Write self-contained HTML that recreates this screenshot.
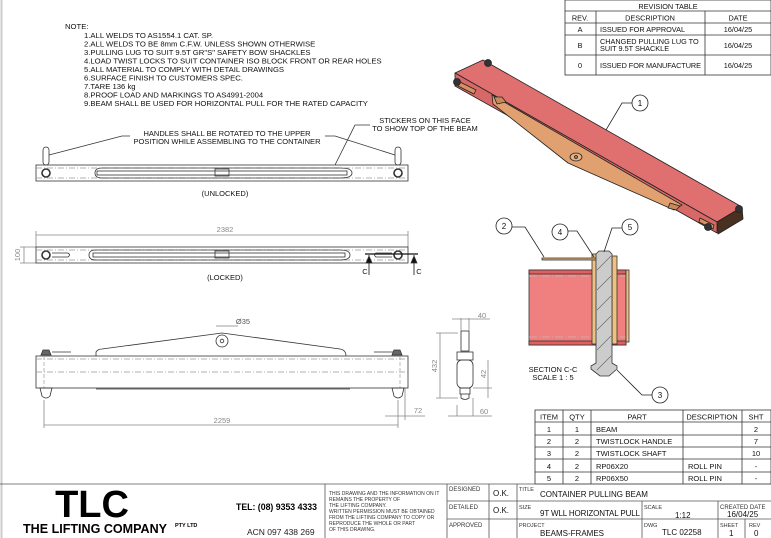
<!DOCTYPE html>
<html><head><meta charset="utf-8"><style>
html,body{margin:0;padding:0;background:#fff;}
svg{display:block;font-family:"Liberation Sans",sans-serif;}
</style></head><body>
<svg width="771" height="538" viewBox="0 0 771 538" xmlns="http://www.w3.org/2000/svg">
<rect width="771" height="538" fill="#fff"/>
<line x1="1.5" y1="0" x2="1.5" y2="538" stroke="#ccc" stroke-width="2"/>

<!-- NOTES -->
<g font-size="7.7" fill="#111">
<text x="65" y="29">NOTE:</text>
<text x="84" y="38">1.ALL WELDS TO AS1554.1 CAT. SP.</text>
<text x="84" y="46.5">2.ALL WELDS TO BE 8mm C.F.W. UNLESS SHOWN OTHERWISE</text>
<text x="84" y="55">3.PULLING LUG TO SUIT 9.5T GR"S" SAFETY BOW SHACKLES</text>
<text x="84" y="63.5">4.LOAD TWIST LOCKS TO SUIT CONTAINER ISO BLOCK FRONT OR REAR HOLES</text>
<text x="84" y="72">5.ALL MATERIAL TO COMPLY WITH DETAIL DRAWINGS</text>
<text x="84" y="80.5">6.SURFACE FINISH TO CUSTOMERS SPEC.</text>
<text x="84" y="89">7.TARE 136 kg</text>
<text x="84" y="97.5">8.PROOF LOAD AND MARKINGS TO AS4991-2004</text>
<text x="84" y="106">9.BEAM SHALL BE USED FOR HORIZONTAL PULL FOR THE RATED CAPACITY</text>
</g>

<!-- REVISION TABLE -->
<g stroke="#333" stroke-width="0.8" fill="none">
<rect x="565" y="0" width="206" height="75"/>
<line x1="565" y1="11" x2="771" y2="11"/><line x1="565" y1="23" x2="771" y2="23"/>
<line x1="565" y1="35" x2="771" y2="35"/><line x1="565" y1="55" x2="771" y2="55"/>
<line x1="596" y1="11" x2="596" y2="75"/><line x1="705" y1="11" x2="705" y2="75"/>
</g>
<g font-size="7.3" fill="#111">
<text x="668" y="9" text-anchor="middle">REVISION TABLE</text>
<text x="580" y="20.5" text-anchor="middle">REV.</text>
<text x="650" y="20.5" text-anchor="middle">DESCRIPTION</text>
<text x="738" y="20.5" text-anchor="middle">DATE</text>
<text x="580" y="32" text-anchor="middle">A</text><text x="600" y="32">ISSUED FOR APPROVAL</text><text x="738" y="32" text-anchor="middle">16/04/25</text>
<text x="580" y="48" text-anchor="middle">B</text><text x="600" y="44">CHANGED PULLING LUG TO</text><text x="600" y="51">SUIT 9.5T SHACKLE</text><text x="738" y="48" text-anchor="middle">16/04/25</text>
<text x="580" y="68" text-anchor="middle">0</text><text x="600" y="68" textLength="101">ISSUED FOR MANUFACTURE</text><text x="738" y="68" text-anchor="middle">16/04/25</text>
</g>

<!-- UNLOCKED VIEW -->
<g stroke="#333" stroke-width="0.8" fill="none">
<rect x="36" y="165" width="372" height="16" fill="#fff"/>
<line x1="36" y1="168" x2="408" y2="168" stroke-dasharray="6,2,1,2" stroke="#999"/>
<line x1="36" y1="178" x2="408" y2="178" stroke-dasharray="6,2,1,2" stroke="#999"/>
<path d="M95 173 Q95 168 102 168 L340 168 Q352 168 352 173 Q352 178 340 178 L102 178 Q95 178 95 173Z"/>
<rect x="97" y="171" width="250" height="4"/>
<rect x="215" y="169" width="14" height="7"/>
<rect x="43" y="147" width="6" height="18" rx="3"/>
<rect x="395" y="147" width="6" height="18" rx="3"/>
<circle cx="46" cy="173" r="4" stroke-width="1.6"/><circle cx="398" cy="173" r="4" stroke-width="1.6"/>
<polyline points="49,155 122,136 130,136"/><polyline points="395,155 335,136 325,136"/>
<polyline points="335,165 355,125 370,125"/>
</g>
<g font-size="7.5" fill="#111" text-anchor="middle">
<text x="227" y="136">HANDLES SHALL BE ROTATED TO THE UPPER</text>
<text x="227" y="144">POSITION WHILE ASSEMBLING TO THE CONTAINER</text>
<text x="425" y="123">STICKERS ON THIS FACE</text>
<text x="425" y="131">TO SHOW TOP OF THE BEAM</text>
<text x="225" y="196">(UNLOCKED)</text>
</g>

<!-- LOCKED VIEW -->
<g stroke="#333" stroke-width="0.8" fill="none">
<line x1="36" y1="235" x2="408" y2="235" stroke="#888"/>
<line x1="36" y1="231" x2="36" y2="247" stroke="#888"/><line x1="408" y1="231" x2="408" y2="247" stroke="#888"/>
<line x1="24" y1="247" x2="24" y2="263" stroke="#888"/>
<line x1="20" y1="247" x2="36" y2="247" stroke="#888"/><line x1="20" y1="263" x2="36" y2="263" stroke="#888"/>
<rect x="36" y="247" width="372" height="16"/>
<line x1="36" y1="250" x2="408" y2="250" stroke-dasharray="6,2,1,2" stroke="#999"/>
<line x1="36" y1="260" x2="408" y2="260" stroke-dasharray="6,2,1,2" stroke="#999"/>
<path d="M89 255 Q89 250 96 250 L340 250 Q350 250 350 255 Q350 260 340 260 L96 260 Q89 260 89 255Z"/>
<rect x="93" y="253" width="252" height="4"/>
<rect x="215" y="251" width="14" height="7"/>
<circle cx="46" cy="255" r="4" stroke-width="1.6"/><circle cx="398" cy="255" r="4" stroke-width="1.6"/>
<path d="M52 253 L68 253 Q71 255 68 257 L52 257"/>
<path d="M392 253 L376 253 Q373 255 376 257 L392 257"/>
<line x1="365" y1="254" x2="418" y2="254" stroke="#111" stroke-width="1.2"/>
<line x1="369" y1="255" x2="369" y2="275" stroke="#111"/><line x1="414" y1="255" x2="414" y2="275" stroke="#111"/>
<path d="M366 263 L369 256 L372 263Z M411 263 L414 256 L417 263Z" fill="#111"/>
</g>
<g font-size="7.5" fill="#111" text-anchor="middle">
<text x="225" y="232" fill="#888">2382</text>
<text x="20" y="255" fill="#888" transform="rotate(-90 20 255)">100</text>
<text x="365" y="274">C</text><text x="419" y="274">C</text>
<text x="225" y="280">(LOCKED)</text>
</g>

<!-- SIDE VIEW -->
<g stroke="#333" stroke-width="0.8" fill="none">
<rect x="36" y="356" width="372" height="32"/>
<line x1="36" y1="359" x2="408" y2="359" stroke-dasharray="6,2,1,2" stroke="#999"/>
<line x1="36" y1="372" x2="408" y2="372" stroke-dasharray="6,2,1,2" stroke="#999"/>
<line x1="44" y1="356" x2="44" y2="388" stroke-dasharray="4,2" stroke="#aaa"/>
<line x1="400" y1="356" x2="400" y2="388" stroke-dasharray="4,2" stroke="#aaa"/>
<path d="M96 356 L96 352 Q98 349 102 349 L222 333 L340 349 Q346 350 346 356"/>
<circle cx="222" cy="341" r="6"/><circle cx="222" cy="341" r="1.8"/>
<line x1="96" y1="389" x2="350" y2="389"/>
<path d="M41 355 L43 350 L49 350 L51 355Z M392 355 L394 350 L400 350 L402 355Z" fill="#666"/>
<line x1="52" y1="352" x2="71" y2="352"/><line x1="374" y1="352" x2="393" y2="352"/>
<path d="M40 388 L42 396 Q46 400 50 396 L52 388Z M392 388 L394 396 Q398 400 402 396 L404 388Z"/>
<line x1="216" y1="326" x2="228" y2="326" stroke="#888"/><line x1="228" y1="326" x2="238" y2="326" stroke="#888"/>
<line x1="44" y1="400" x2="44" y2="428" stroke="#888"/><line x1="398" y1="400" x2="398" y2="428" stroke="#888"/>
<line x1="44" y1="425" x2="398" y2="425" stroke="#888"/>
<line x1="405" y1="388" x2="405" y2="420" stroke="#888"/>
<line x1="385" y1="416" x2="425" y2="416" stroke="#888"/>
<rect x="461" y="331" width="8" height="20" />
<rect x="457" y="352" width="16" height="8"/>
<rect x="457" y="360" width="16" height="28" rx="5"/>
<rect x="460" y="388" width="10" height="6"/>
<path d="M461 394 L461 398 Q465 401 469 398 L469 394"/>
<line x1="440" y1="333" x2="440" y2="398" stroke="#888"/>
<line x1="436" y1="333" x2="458" y2="333" stroke="#888"/><line x1="436" y1="398" x2="458" y2="398" stroke="#888"/>
<line x1="461" y1="318" x2="461" y2="331" stroke="#888"/><line x1="469" y1="318" x2="469" y2="331" stroke="#888"/>
<line x1="452" y1="319" x2="490" y2="319" stroke="#888"/>
<line x1="488" y1="360" x2="488" y2="398" stroke="#888"/>
<line x1="473" y1="388" x2="492" y2="388" stroke="#888"/>
<line x1="457" y1="405" x2="457" y2="416" stroke="#888"/><line x1="473" y1="398" x2="473" y2="416" stroke="#888"/>
<line x1="448" y1="416" x2="492" y2="416" stroke="#888"/>
</g>
<g font-size="7.5" fill="#888" text-anchor="middle">
<text x="243" y="324" fill="#555">Ø35</text>
<text x="222" y="423">2259</text>
<text x="418" y="413">72</text>
<text x="437" y="366" transform="rotate(-90 437 366)">432</text>
<text x="482" y="318">40</text>
<text x="486" y="374" transform="rotate(-90 486 374)">42</text>
<text x="484" y="414">60</text>
</g>

<!-- ISO VIEW -->
<g stroke="#222" stroke-width="0.8" stroke-linejoin="round">
<path d="M455 73 L483 60 L742 207 L717 222Z" fill="#e07070"/>
<path d="M455 73 L717 222 L717 233 L455 86Z" fill="#d86868"/>
<path d="M717 222 L742 207 L743 219 L718 234Z" fill="#4a3020"/>
<path d="M492 95 L682 205 L674 210 L568 163 L493 104Z" fill="#e0a070"/>
<path d="M494 97 L502 97 L506 102 L497 104Z" fill="#c88858"/>
<path d="M670 203 L680 206 L676 210 L668 208Z" fill="#c88858"/>
<path d="M460 82 L476 90 L474 94 L458 86Z" fill="#d89060"/>
<path d="M700 218 L714 225 L713 229 L699 222Z" fill="#d89060"/>
<ellipse cx="576" cy="157" rx="6" ry="4" fill="#e8b080"/>
<circle cx="576" cy="157" r="1.5" fill="#888"/>
<circle cx="457" cy="82" r="3.5" fill="#333"/><circle cx="488" cy="63" r="3.5" fill="#333"/>
<circle cx="708" cy="227" r="3.5" fill="#333"/><circle cx="739" cy="209" r="3.5" fill="#333"/>
</g>
<g stroke="#222" stroke-width="0.8" fill="#fff">
<polyline points="606,130 622,103 632,103" fill="none"/>
<circle cx="640" cy="103" r="8"/>
</g>
<text x="640" y="106" font-size="8" text-anchor="middle">1</text>

<!-- SECTION C-C -->
<g stroke="#333" stroke-width="0.8">
<rect x="529" y="270" width="97" height="75" fill="#f08080"/>
<rect x="529" y="270" width="97" height="4" fill="#e06060"/>
<rect x="529" y="341" width="97" height="4" fill="#e06060"/>
<line x1="529" y1="276" x2="626" y2="276" stroke="#bbb" stroke-dasharray="8,2,1,2"/>
<line x1="529" y1="337" x2="626" y2="337" stroke="#bbb" stroke-dasharray="8,2,1,2"/>
<rect x="592" y="254" width="5" height="90" fill="#f0c080"/>
<rect x="612" y="256" width="5" height="88" fill="#f0c080"/>
<rect x="626" y="270" width="3" height="72" fill="#f0c080"/>
<rect x="542" y="258" width="54" height="2" fill="#e8b070"/>
<path d="M596 254 L599 251 L609 251 L612 254 L612 363 L617 366 L617 369 L609 376 L600 376 L591 369 L591 366 L596 363Z" fill="#ccc"/>
<g stroke="#666" stroke-width="0.6">
<line x1="597" y1="270" x2="611" y2="256"/><line x1="597" y1="290" x2="611" y2="276"/>
<line x1="597" y1="310" x2="611" y2="296"/><line x1="597" y1="330" x2="611" y2="316"/>
<line x1="597" y1="350" x2="611" y2="336"/><line x1="597" y1="370" x2="611" y2="356"/>
</g>
</g>
<g stroke="#222" stroke-width="0.8" fill="#fff">
<polyline points="544,257 525,227 512,227" fill="none"/><circle cx="504" cy="226" r="8"/>
<polyline points="594,257 577,231 568,231" fill="none"/><circle cx="560" cy="232" r="8"/>
<polyline points="604,252 612,228 622,228" fill="none"/><circle cx="630" cy="227" r="8"/>
<polyline points="617,370 642,395 652,395" fill="none"/><circle cx="660" cy="395" r="8"/>
</g>
<g font-size="8" text-anchor="middle" fill="#111">
<text x="504" y="229">2</text><text x="560" y="235">4</text><text x="630" y="230">5</text><text x="660" y="398">3</text>
<text x="553" y="372" font-size="7.5">SECTION C-C</text><text x="553" y="380" font-size="7.5">SCALE 1 : 5</text>
</g>

<!-- PARTS TABLE -->
<g stroke="#333" stroke-width="0.8" fill="none">
<rect x="535" y="410" width="236" height="74"/>
<line x1="535" y1="422" x2="771" y2="422"/><line x1="535" y1="435" x2="771" y2="435"/>
<line x1="535" y1="447" x2="771" y2="447"/><line x1="535" y1="459" x2="771" y2="459"/>
<line x1="535" y1="472" x2="771" y2="472"/>
<line x1="563" y1="410" x2="563" y2="484"/><line x1="591" y1="410" x2="591" y2="484"/>
<line x1="683" y1="410" x2="683" y2="484"/><line x1="742" y1="410" x2="742" y2="484"/>
</g>
<g font-size="7.5" fill="#111">
<g text-anchor="middle">
<text x="549" y="419.5">ITEM</text><text x="577" y="419.5">QTY</text><text x="637" y="419.5">PART</text><text x="712" y="419.5">DESCRIPTION</text><text x="756" y="419.5">SHT</text>
<text x="549" y="432">1</text><text x="577" y="432">1</text><text x="756" y="432">2</text>
<text x="549" y="444">2</text><text x="577" y="444">2</text><text x="756" y="444">7</text>
<text x="549" y="456">3</text><text x="577" y="456">2</text><text x="756" y="456">10</text>
<text x="549" y="469">4</text><text x="577" y="469">2</text><text x="756" y="469">-</text>
<text x="549" y="481">5</text><text x="577" y="481">2</text><text x="756" y="481">-</text>
</g>
<text x="596" y="432">BEAM</text><text x="596" y="444">TWISTLOCK HANDLE</text><text x="596" y="456">TWISTLOCK SHAFT</text>
<text x="596" y="469">RP06X20</text><text x="688" y="469">ROLL PIN</text>
<text x="596" y="481">RP06X50</text><text x="688" y="481">ROLL PIN</text>
</g>

<!-- TITLE BLOCK -->
<g stroke="#555" stroke-width="0.8" fill="none">
<line x1="0" y1="484" x2="771" y2="484"/>
<line x1="325" y1="484" x2="325" y2="538"/>
<line x1="447" y1="484" x2="447" y2="538"/>
<line x1="489" y1="484" x2="489" y2="538"/>
<line x1="517" y1="484" x2="517" y2="538"/>
<line x1="447" y1="501" x2="771" y2="501"/>
<line x1="447" y1="519" x2="771" y2="519"/>
<line x1="642" y1="501" x2="642" y2="538"/>
<line x1="718" y1="501" x2="718" y2="538"/>
<line x1="745" y1="519" x2="745" y2="538"/>
</g>
<text x="92" y="517" font-size="38" font-weight="bold" text-anchor="middle" fill="#000">TLC</text>
<text x="23" y="533" font-size="13" font-weight="bold" fill="#000" textLength="144" lengthAdjust="spacingAndGlyphs">THE LIFTING COMPANY</text>
<text x="175" y="527" font-size="5.5" font-weight="bold" fill="#000">PTY LTD</text>
<text x="236" y="510" font-size="9.5" font-weight="bold" fill="#000" textLength="81" lengthAdjust="spacingAndGlyphs">TEL: (08) 9353 4333</text>
<text x="247" y="535" font-size="8.5" fill="#222">ACN 097 438 269</text>
<g font-size="5" fill="#333">
<text x="329" y="495">THIS DRAWING AND THE INFORMATION ON IT</text>
<text x="329" y="501">REMAINS THE PROPERTY OF</text>
<text x="329" y="507">THE LIFTING COMPANY.</text>
<text x="329" y="513">WRITTEN PERMISSION MUST BE OBTAINED</text>
<text x="329" y="519">FROM THE LIFTING COMPANY TO COPY OR</text>
<text x="329" y="525">REPRODUCE THE WHOLE OR PART</text>
<text x="329" y="531">OF THIS DRAWING.</text>
<text x="449" y="491" font-size="6">DESIGNED</text>
<text x="449" y="509" font-size="6">DETAILED</text>
<text x="449" y="527" font-size="6">APPROVED</text>
<text x="519" y="491" font-size="5.5">TITLE</text>
<text x="519" y="509" font-size="5.5">SIZE</text>
<text x="519" y="527" font-size="5.5">PROJECT</text>
<text x="644" y="509" font-size="5.5">SCALE</text>
<text x="720" y="509" font-size="6">CREATED DATE</text>
<text x="644" y="527" font-size="5.5">DWG</text>
<text x="720" y="527" font-size="5.5">SHEET</text>
<text x="749" y="527" font-size="5.5">REV</text>
</g>
<g font-size="8" fill="#111">
<text x="493" y="496">O.K.</text><text x="493" y="513">O.K.</text>
<text x="540" y="497">CONTAINER PULLING BEAM</text>
<text x="540" y="516" textLength="100">9T WLL HORIZONTAL PULL</text>
<text x="540" y="536">BEAMS-FRAMES</text>
<text x="675" y="518">1:12</text>
<text x="727" y="517">16/04/25</text>
<text x="662" y="535">TLC 02258</text>
<text x="729" y="536">1</text><text x="754" y="536">0</text>
</g>
</svg>
</body></html>
